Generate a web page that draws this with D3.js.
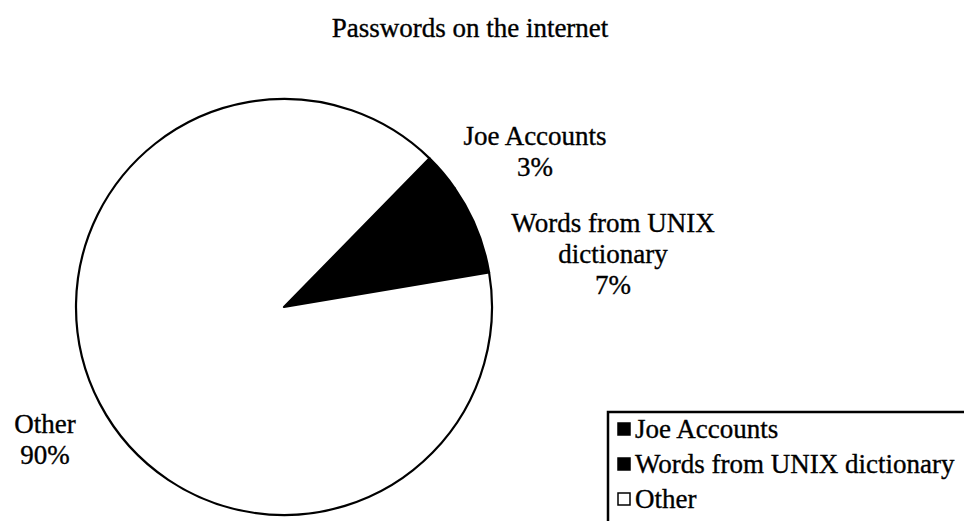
<!DOCTYPE html>
<html>
<head>
<meta charset="utf-8">
<script src="https://cdn.jsdelivr.net/npm/d3@7"></script>
<style>
  body { margin: 0; background: #fff; }
  svg { display: block; }
  text { font-family: "Liberation Serif", "DejaVu Serif", serif; fill: #000; stroke: #000; stroke-width: 0.35px; }
</style>
</head>
<body>
<svg id="chart"></svg>
<script>
const categories = ["Joe Accounts", "Words from UNIX dictionary", "Other"];
const shares = [3, 7, 90];
const labelLines = [["Joe Accounts", "3%"], ["Words from UNIX", "dictionary", "7%"], ["Other", "90%"]];
const fills = ["#000", "#000", "#fff"];

const width = 964, height = 521;
const fontSize = 27;

let svg = d3.select("svg#chart")
  .attr("width", width)
  .attr("height", height)
  .style("background", "#fff");

svg.append("text")
  .attr("x", 470).attr("y", 37)
  .attr("text-anchor", "middle")
  .style("font-size", fontSize + "px")
  .text("Passwords on the internet");

// pie: first slice starts ~44 degrees clockwise from 12 o'clock
const startDeg = 44.4;
const pie = d3.pie().sort(null)
  .startAngle(startDeg * Math.PI / 180)
  .endAngle((startDeg + 360) * Math.PI / 180);
const arc = d3.arc().innerRadius(0).outerRadius(208);

const data = categories.map((c, i) => ({ name: c, value: shares[i], fill: fills[i], lines: labelLines[i] }));
const arcs = pie.value(d => d.value)(data);

const g = svg.append("g").attr("transform", "translate(284,307)");
g.selectAll("path").data(arcs).join("path")
  .attr("d", arc)
  .attr("fill", d => d.data.fill)
  .attr("stroke", "#000")
  .attr("stroke-width", 2.2)
  .attr("stroke-linejoin", "round");

// data labels, placed where the original put them
const labelPos = [[535, 145], [613, 232], [45, 433]];
const lineGap = 31;
arcs.forEach((a, i) => {
  const t = svg.append("text")
    .attr("text-anchor", "middle")
    .style("font-size", fontSize + "px");
  a.data.lines.forEach((ln, j) => {
    t.append("tspan")
      .attr("x", labelPos[i][0])
      .attr("y", labelPos[i][1] + j * lineGap)
      .text(ln);
  });
});

// legend box, runs off the right and bottom edges
const legend = svg.append("g").attr("transform", "translate(608,412)");
legend.append("rect")
  .attr("x", 0).attr("y", 0)
  .attr("width", 400).attr("height", 200)
  .attr("fill", "#fff")
  .attr("stroke", "#000")
  .attr("stroke-width", 2.5);

const rowY = d3.scalePoint().domain(categories).range([26, 96]);
const rows = legend.selectAll("g.row").data(data).join("g")
  .attr("class", "row")
  .attr("transform", d => `translate(0,${rowY(d.name)})`);
rows.append("rect")
  .attr("x", 10).attr("y", -15)
  .attr("width", 12).attr("height", 12)
  .attr("fill", d => d.fill)
  .attr("stroke", "#000")
  .attr("stroke-width", 1.5);
rows.append("text")
  .attr("x", 27).attr("y", 0)
  .style("font-size", fontSize + "px")
  .text(d => d.name);
</script>
</body>
</html>
